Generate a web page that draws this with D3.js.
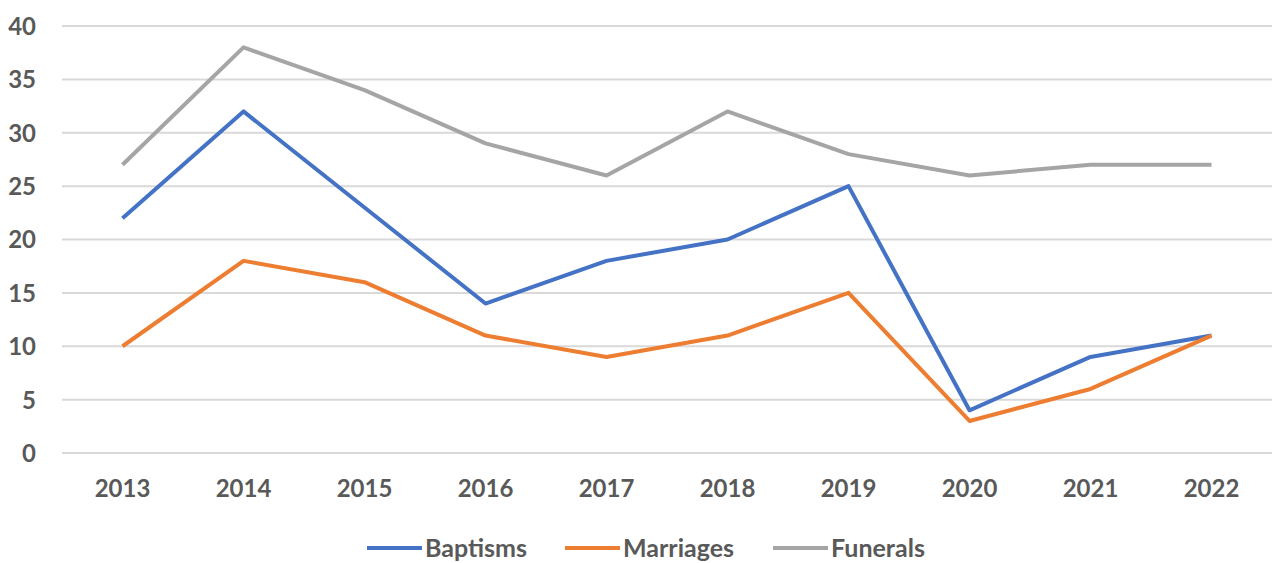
<!DOCTYPE html>
<html>
<head>
<meta charset="utf-8">
<script src="https://cdn.jsdelivr.net/npm/d3@7"></script>
<style>
  body { margin: 0; background: #fff; }
  text { font-family: Lato, "Open Sans", sans-serif; font-weight: bold; fill: #595959; }
</style>
</head>
<body>
<div id="chart"></div>
<script>
// data
const years = ["2013", "2014", "2015", "2016", "2017", "2018", "2019", "2020", "2021", "2022"];
const baptisms = [22, 32, 23, 14, 18, 20, 25, 4, 9, 11];
const marriages = [10, 18, 16, 11, 9, 11, 15, 3, 6, 11];
const funerals = [27, 38, 34, 29, 26, 32, 28, 26, 27, 27];
const yTicks = [0, 5, 10, 15, 20, 25, 30, 35, 40];

const series = [
  { name: "Baptisms", values: baptisms, color: "#4472C4" },
  { name: "Marriages", values: marriages, color: "#ED7D31" },
  { name: "Funerals", values: funerals, color: "#A5A5A5" }
];

const width = 1276, height = 563;
const margin = { top: 26, bottom: 110, left: 62, right: 4 };

const svg = d3.select("#chart").append("svg")
  .attr("width", width)
  .attr("height", height);

const xScale = d3.scaleBand()
  .domain(years)
  .range([margin.left, width - margin.right]);

const yScale = d3.scaleLinear()
  .domain([0, 40])
  .range([height - margin.bottom, margin.top]);

// gridlines
svg.append("g")
  .selectAll("line")
  .data(yTicks)
  .join("line")
  .attr("x1", margin.left)
  .attr("x2", width - margin.right)
  .attr("y1", d => yScale(d))
  .attr("y2", d => yScale(d))
  .attr("stroke", "#d9d9d9")
  .attr("stroke-width", 2);

// y axis labels
const yAxis = d3.axisLeft(yScale).tickValues(yTicks).tickSize(0).tickPadding(0);
svg.append("g")
  .attr("transform", `translate(${margin.left - 26}, 0)`)
  .call(yAxis)
  .call(g => g.select(".domain").remove())
  .selectAll("text")
  .style("font-size", "24px")
  .attr("dy", "0.35em");

// x axis labels
const xAxis = d3.axisBottom(xScale).tickSize(0).tickPadding(0);
svg.append("g")
  .attr("transform", `translate(0, ${yScale(0) + 27})`)
  .call(xAxis)
  .call(g => g.select(".domain").remove())
  .selectAll("text")
  .style("font-size", "24px");

svg.selectAll(".tick text").attr("fill", "#595959");

// lines
const lineFunc = d3.line()
  .x((d, i) => xScale(years[i]) + xScale.bandwidth() / 2)
  .y(d => yScale(d));

svg.selectAll("path.trend")
  .data(series)
  .join("path")
  .attr("class", "trend")
  .attr("fill", "none")
  .attr("stroke", d => d.color)
  .attr("stroke-width", 4)
  .attr("stroke-linejoin", "round")
  .attr("d", d => lineFunc(d.values));

// legend
const legendX = [367, 565, 773];
const legend = svg.append("g")
  .selectAll("g")
  .data(series)
  .join("g")
  .attr("transform", (d, i) => `translate(${legendX[i]}, 548)`);

legend.append("line")
  .attr("x1", 0)
  .attr("x2", 55)
  .attr("stroke", d => d.color)
  .attr("stroke-width", 4);

legend.append("text")
  .attr("x", 58)
  .attr("dy", "0.35em")
  .style("font-size", "25px")
  .text(d => d.name);
</script>
</body>
</html>
